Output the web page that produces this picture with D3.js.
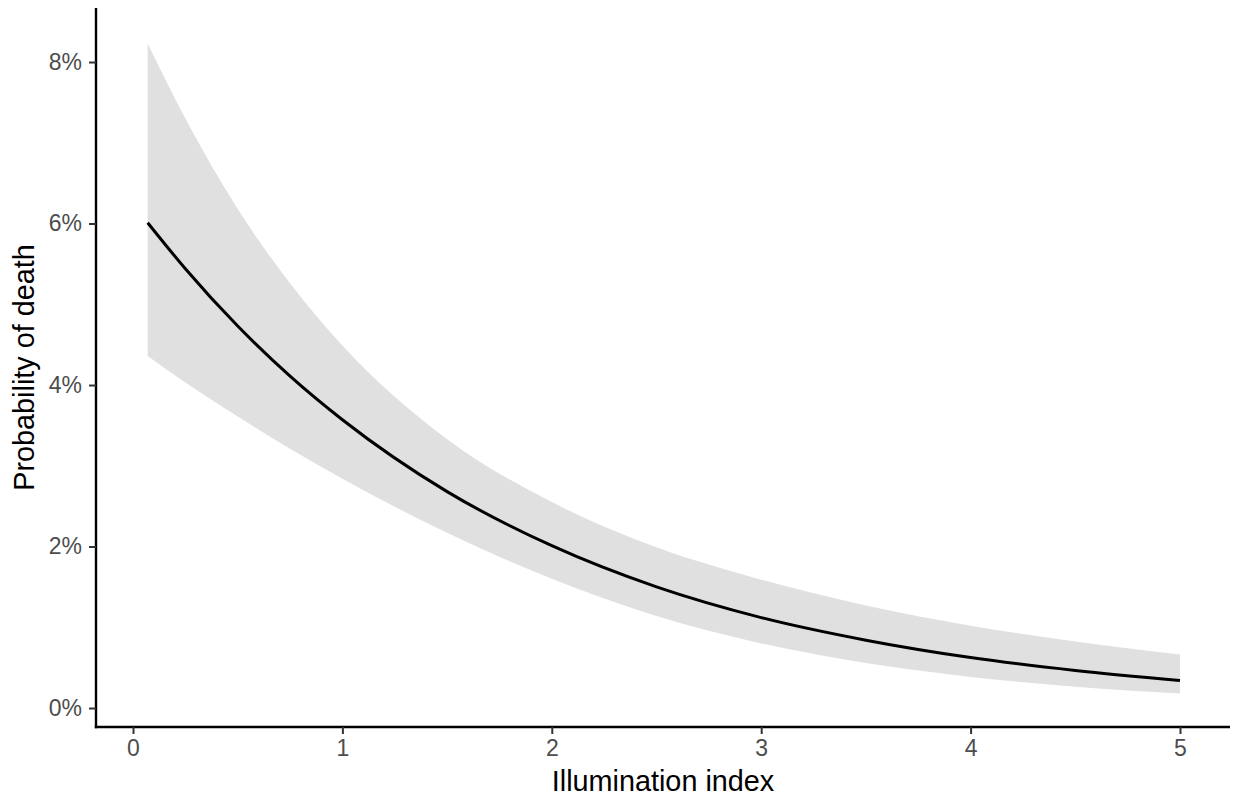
<!DOCTYPE html>
<html>
<head>
<meta charset="utf-8">
<script src="https://cdn.jsdelivr.net/npm/d3@7"></script>
<style>
  html, body { margin: 0; padding: 0; background: #ffffff; }
  svg { display: block; }
</style>
</head>
<body>
<svg id="chart" width="1236" height="797"></svg>
<script>
// ---- data ----
const illumination = [0.07, 0.25, 0.5, 0.75, 1, 1.5, 2, 2.5, 3, 3.5, 4, 4.5, 5];
const probFit   = [0.0601, 0.0544, 0.0473, 0.0411, 0.0357, 0.0268, 0.0201, 0.0150, 0.0112, 0.00840, 0.00625, 0.00465, 0.00342];
const probLower = [0.0436, 0.0403, 0.0361, 0.0321, 0.0284, 0.0217, 0.0160, 0.0114, 0.0080, 0.00557, 0.00385, 0.00264, 0.00181];
const probUpper = [0.0823, 0.0730, 0.0618, 0.0526, 0.0449, 0.0333, 0.0255, 0.0199, 0.0159, 0.0127, 0.0102, 0.00825, 0.00663];
const xTicks = [0, 1, 2, 3, 4, 5];
const yTicks = [0, 0.02, 0.04, 0.06, 0.08];
const xTitle = "Illumination index";
const yTitle = "Probability of death";

(function () {
  // ---- layout ----
  const pLeft = 96, pRight = 1230, pTop = 8, pBottom = 727;
  const svg = d3.select("#chart");

  const rows = illumination.map((x, i) => ({x, fit: probFit[i], lo: probLower[i], hi: probUpper[i]}));

  const xs = d3.scaleLinear().domain([-0.1767, 5.2388]).range([pLeft, pRight]);
  const ys = d3.scaleLinear().domain([-0.00235, 0.08669]).range([pBottom, pTop]);

  // ribbon
  svg.append("path")
    .datum(rows)
    .attr("fill", "#E0E0E0")
    .attr("d", d3.area().curve(d3.curveMonotoneX)
      .x(d => xs(d.x)).y0(d => ys(d.lo)).y1(d => ys(d.hi)));

  // fitted line
  svg.append("path")
    .datum(rows)
    .attr("fill", "none")
    .attr("stroke", "#000000")
    .attr("stroke-width", 3)
    .attr("d", d3.line().curve(d3.curveMonotoneX)
      .x(d => xs(d.x)).y(d => ys(d.fit)));

  // axes
  const fontFam = "'Liberation Sans', Arial, Helvetica, sans-serif";
  const xAxis = svg.append("g")
    .attr("transform", `translate(0,${pBottom})`)
    .call(d3.axisBottom(xs).tickValues(xTicks).tickFormat(d3.format("d")).tickSizeInner(7).tickSizeOuter(0).tickPadding(6));
  const yAxis = svg.append("g")
    .attr("transform", `translate(${pLeft},0)`)
    .call(d3.axisLeft(ys).tickValues(yTicks).tickFormat(d3.format(".0%")).tickSizeInner(7).tickSizeOuter(0).tickPadding(7));

  [xAxis, yAxis].forEach(g => {
    g.select(".domain").attr("stroke", "#000").attr("stroke-width", 2.4);
    g.selectAll(".tick line").attr("stroke", "#333").attr("stroke-width", 2);
    g.selectAll(".tick text").attr("fill", "#4D4D4D").style("font-family", fontFam).style("font-size", "23px");
  });
  xAxis.select(".domain").attr("d", `M${pLeft - 1.2},0H${pRight}`);
  yAxis.select(".domain").attr("d", `M0,${pTop}V${pBottom + 1.2}`);

  // titles
  svg.append("text")
    .attr("x", (pLeft + pRight) / 2).attr("y", 791)
    .attr("text-anchor", "middle")
    .style("font-family", fontFam).style("font-size", "28.8px").attr("fill", "#000")
    .text(xTitle);
  svg.append("text")
    .attr("transform", `translate(34,${(pTop + pBottom) / 2}) rotate(-90)`)
    .attr("text-anchor", "middle")
    .style("font-family", fontFam).style("font-size", "28.8px").attr("fill", "#000")
    .text(yTitle);
})();
</script>
</body>
</html>
